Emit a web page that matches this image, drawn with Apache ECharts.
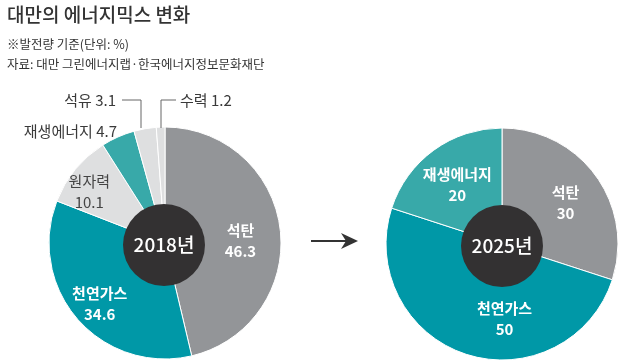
<!DOCTYPE html>
<html><head><meta charset="utf-8">
<script src="https://cdn.jsdelivr.net/npm/echarts@6/dist/echarts.min.js"></script>
<style>html,body{margin:0;padding:0;background:#fff}#c{width:620px;height:363px}</style>
</head><body><div id="c"></div>
<script>
const titleText = '대만의 에너지믹스 변화';
const noteText = '※발전량 기준(단위: %)';
const sourceText = '자료: 대만 그린에너지랩·한국에너지정보문화재단';

const cats2018 = ['석탄', '천연가스', '원자력', '재생에너지', '석유', '수력'];
const vals2018 = [46.3, 34.6, 10.1, 4.7, 3.1, 1.2];
const cats2025 = ['석탄', '천연가스', '재생에너지'];
const vals2025 = [30, 50, 20];
const yearLabels = ['2018년', '2025년'];

const FONT = "'Noto Sans CJK KR', sans-serif";
const colorMap = {
  '석탄': '#939598', '천연가스': '#0098a7', '원자력': '#dedfe0',
  '재생에너지': '#38a9a9', '석유': '#dedfe0', '수력': '#dedfe0'
};
const insideText = { '석탄': '#fff', '천연가스': '#fff', '원자력': '#444', '재생에너지': '#fff' };
const insideWeight = { '석탄': 'bold', '천연가스': 'bold', '원자력': 'normal', '재생에너지': 'bold' };
const outside2018 = { '재생에너지': true, '석유': true, '수력': true };

function mkData(cats, vals, outsideSet) {
  return cats.map((c, i) => {
    const out = outsideSet && outsideSet[c];
    return {
      name: c, value: vals[i],
      itemStyle: { color: colorMap[c] },
      label: out ? {
        position: 'outside', formatter: '{b} {c}', color: '#3a3a3a',
        fontSize: 15, fontWeight: 'normal'
      } : {
        position: 'inside', formatter: '{b}\n{c}', color: insideText[c],
        fontSize: 15, fontWeight: insideWeight[c], lineHeight: 21
      },
      labelLine: { show: false }
    };
  });
}

const layout2018 = {
  0: { dx: 0, dy: 7 },
  1: { dx: -8, dy: 11 },
  2: { dx: -17, dy: -3 },
  3: { x: 117, y: 131, align: 'right', verticalAlign: 'middle' },
  4: { x: 116, y: 100, align: 'right', verticalAlign: 'middle' },
  5: { x: 180, y: 100, align: 'left', verticalAlign: 'middle' }
};
const layout2025 = {
  0: { dx: 2, dy: 3 },
  1: { dx: 26, dy: 3 },
  2: { dx: 0, dy: 2 }
};

const chart = echarts.init(document.getElementById('c'));
chart.setOption({
  animation: false,
  title: [
    { text: titleText, left: 2, top: 0, textStyle: { fontFamily: FONT, fontSize: 19, fontWeight: 500, color: '#333' } },
    { text: noteText, left: 2, top: 33, textStyle: { fontFamily: FONT, fontSize: 12.5, fontWeight: 'normal', color: '#333' } },
    { text: sourceText, left: 2, top: 53, textStyle: { fontFamily: FONT, fontSize: 12.5, fontWeight: 'normal', color: '#333' } }
  ],
  series: [
    {
      type: 'pie', center: [165, 243], radius: [30, 116], startAngle: 90, clockwise: true,
      avoidLabelOverlap: false, silent: true,
      itemStyle: { borderColor: '#fff', borderWidth: 1 },
      label: { fontFamily: FONT },
      labelLayout: p => layout2018[p.dataIndex],
      data: mkData(cats2018, vals2018, outside2018)
    },
    {
      type: 'pie', center: [502, 244], radius: [30, 116], startAngle: 90, clockwise: true,
      avoidLabelOverlap: false, silent: true,
      itemStyle: { borderColor: '#fff', borderWidth: 1 },
      label: { fontFamily: FONT },
      labelLayout: p => layout2025[p.dataIndex],
      data: mkData(cats2025, vals2025, null)
    },
    {
      type: 'pie', center: [164, 245], radius: [0, 41], silent: true, z: 5,
      itemStyle: { color: '#333132' },
      label: { position: 'center', formatter: yearLabels[0], color: '#fff', fontSize: 19, fontWeight: 500, fontFamily: FONT },
      labelLine: { show: false },
      data: [{ name: yearLabels[0], value: 1 }]
    },
    {
      type: 'pie', center: [502, 246], radius: [0, 41], silent: true, z: 5,
      itemStyle: { color: '#333132' },
      label: { position: 'center', formatter: yearLabels[1], color: '#fff', fontSize: 19, fontWeight: 500, fontFamily: FONT },
      labelLine: { show: false },
      data: [{ name: yearLabels[1], value: 1 }]
    }
  ],
  graphic: [
    { type: 'polyline', shape: { points: [[122, 100], [141, 100], [141, 128]] }, style: { stroke: '#666', lineWidth: 1, fill: null }, z: 10 },
    { type: 'polyline', shape: { points: [[176, 100], [161, 100], [161, 128]] }, style: { stroke: '#666', lineWidth: 1, fill: null }, z: 10 },
    { type: 'line', shape: { x1: 311, y1: 241, x2: 347, y2: 241 }, style: { stroke: '#333', lineWidth: 2 } },
    { type: 'polygon', shape: { points: [[358, 241], [341, 233], [346, 241], [341, 249]] }, style: { fill: '#333' } }
  ]
});
</script></body></html>
